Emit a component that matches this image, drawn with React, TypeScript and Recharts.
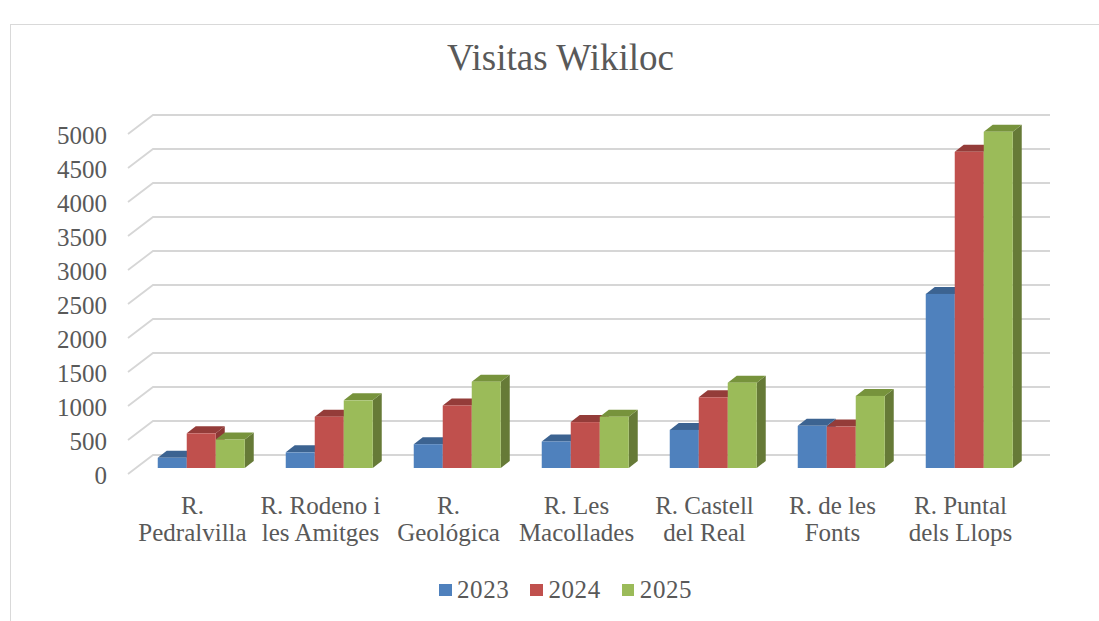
import { BarChart, Bar, XAxis, YAxis, CartesianGrid, Legend } from "recharts"

const routes = [
  "R.\nPedralvilla",
  "R. Rodeno i\nles Amitges",
  "R.\nGeológica",
  "R. Les\nMacollades",
  "R. Castell\ndel Real",
  "R. de les\nFonts",
  "R. Puntal\ndels Llops",
]
const visits2023 = [150, 230, 350, 390, 560, 620, 2560]
const visits2024 = [510, 755, 920, 675, 1040, 610, 4650]
const visits2025 = [420, 995, 1270, 755, 1255, 1060, 4945]
const yTicks = [0, 500, 1000, 1500, 2000, 2500, 3000, 3500, 4000, 4500, 5000]

const data = routes.map((route, i) => ({
  route,
  y2023: visits2023[i],
  y2024: visits2024[i],
  y2025: visits2025[i],
}))

const FONT = "'Liberation Serif', 'Times New Roman', serif"
const TEXT = "#595959"
const GRID = "#d6d6d6"

// oblique 3d offsets (px)
const BACK_DX = 16.5
const BACK_DY = 13
const FRONT_DX = 8.5
const FRONT_DY = 6
const BAR_DX = 9
const BAR_DY = 7

const gridLine = (p: any) => {
  const y = p.y1
  return (
    <polyline
      key={p.key}
      points={`${p.x1 - FRONT_DX},${y + FRONT_DY} ${p.x1 + BACK_DX},${y - BACK_DY} ${p.x2 + BACK_DX + 1},${y - BACK_DY}`}
      fill="none"
      stroke={GRID}
      strokeWidth={1.8}
    />
  )
}

function bar3d(topColor: string, sideColor: string) {
  return (p: any) => {
    const { x, y, width: w, height: h, fill } = p
    if (!h || h <= 0) return <g />
    return (
      <g>
        <polygon
          points={`${x + w},${y} ${x + w + BAR_DX},${y - BAR_DY} ${x + w + BAR_DX},${y + h - BAR_DY} ${x + w},${y + h}`}
          fill={sideColor}
        />
        <polygon
          points={`${x},${y} ${x + BAR_DX},${y - BAR_DY} ${x + w + BAR_DX},${y - BAR_DY} ${x + w},${y}`}
          fill={topColor}
        />
        <rect x={x} y={y} width={w} height={h} fill={fill} />
      </g>
    )
  }
}

const YTick = ({ x, y, payload }: any) => (
  <text x={x} y={y + 16} textAnchor="end" fill={TEXT} fontSize={25} fontFamily={FONT}>
    {payload.value}
  </text>
)

const XTick = ({ x, y, payload }: any) => {
  const lines = String(payload.value).split("\n")
  return (
    <text textAnchor="middle" fill={TEXT} fontSize={25} fontFamily={FONT}>
      {lines.map((ln, i) => (
        <tspan key={i} x={x - 8} y={y + 46 + i * 27}>
          {ln}
        </tspan>
      ))}
    </text>
  )
}

const renderLegend = (props: any) => (
  <div style={{ display: "flex", alignItems: "center", fontFamily: FONT, fontSize: 25, lineHeight: "28px", letterSpacing: 0.6, color: TEXT }}>
    {(props.payload || []).map((entry: any, i: number) => (
      <span key={i} style={{ display: "flex", alignItems: "center", marginRight: 21 }}>
        <span style={{ display: "inline-block", width: 12.5, height: 12.5, background: entry.color, marginRight: 5.5 }} />
        {entry.value}
      </span>
    ))}
  </div>
)

export default function App() {
  return (
    <div style={{ position: "fixed", left: 0, top: 0, width: 1099, height: 621, overflow: "hidden", background: "#fff" }}>
      <div style={{ position: "absolute", left: 10, top: 24, width: 1200, height: 700, border: "1px solid #d9d9d9" }} />
      <svg width={1099} height={100} style={{ position: "absolute", left: 0, top: 0 }}>
        <text x={560.5} y={70} textAnchor="middle" fill={TEXT} fontSize={37} fontFamily={FONT}>
          Visitas Wikiloc
        </text>
      </svg>
      <div style={{ position: "absolute", left: 0, top: 0 }}>
        <BarChart
          width={1099}
          height={621}
          data={data}
          margin={{ top: 128, right: 66.5, bottom: 0, left: 0 }}
          barCategoryGap="16.6%"
          barGap={0}
        >
          <CartesianGrid vertical={false} horizontal={gridLine} />
          <XAxis
            dataKey="route"
            axisLine={false}
            tickLine={false}
            tickSize={0}
            tickMargin={0}
            interval={0}
            height={153}
            tick={<XTick />}
          />
          <YAxis
            type="number"
            domain={[0, 5000]}
            ticks={yTicks}
            interval={0}
            axisLine={false}
            tickLine={false}
            tickSize={0}
            tickMargin={29.5}
            width={136.5}
            tick={<YTick />}
          />
          <Legend
            layout="horizontal"
            verticalAlign="middle"
            align="center"
            content={renderLegend}
            wrapperStyle={{ left: 439, top: 576, width: 400 }}
          />
          <Bar dataKey="y2023" name="2023" fill="#4f81bd" shape={bar3d("#3c6391", "#385d8a")} isAnimationActive={false} />
          <Bar dataKey="y2024" name="2024" fill="#c0504d" shape={bar3d("#943c39", "#8c3835")} isAnimationActive={false} />
          <Bar dataKey="y2025" name="2025" fill="#9bbb59" shape={bar3d("#77933c", "#667a37")} isAnimationActive={false} />
        </BarChart>
      </div>
    </div>
  )
}
